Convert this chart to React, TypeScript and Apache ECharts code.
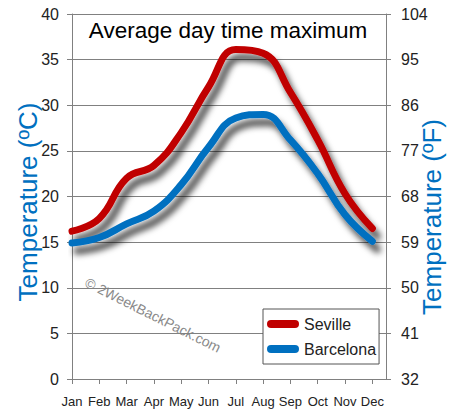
import React, { useEffect, useRef } from "react";
import * as echarts from "echarts";

const months = ["Jan", "Feb", "Mar", "Apr", "May", "Jun", "Jul", "Aug", "Sep", "Oct", "Nov", "Dec"];
const seville = [16.2, 17.6, 22.0, 23.4, 27.0, 32.0, 36.1, 35.7, 31.4, 26.2, 20.3, 16.5];
const barcelona = [14.9, 15.5, 17.0, 18.4, 21.3, 25.4, 28.6, 29.0, 26.2, 22.5, 18.0, 15.1];
const seriesNames = ["Seville", "Barcelona"];
const titleText = "Average day time maximum";
const leftName = "Temperature (ºC)";
const rightName = "Temperature (ºF)";
const watermark = "© 2WeekBackPack.com";

const FONT = "'Liberation Sans', Arial, sans-serif";
const RED = "#c00000";
const BLUE = "#0070c0";
const GRID = "#808080";
const capsule = "path://M4,0 L28,0 A4,4 0 0 1 28,8 L4,8 A4,4 0 0 1 4,0 Z";

export default function App() {
  const ref = useRef<HTMLDivElement>(null);
  useEffect(() => {
    document.body.style.margin = "0";
    const chart = echarts.init(ref.current!, null, { renderer: "svg" });
    const idx = months.map((_, i) => i);
    const lineSeries = (name: string, vals: number[], color: string) => ({
      name,
      type: "line",
      data: vals.map((v, i) => [i, v]),
      smooth: 0.45,
      showSymbol: false,
      symbol: "none",
      lineStyle: {
        width: 7,
        color,
        cap: "round",
        shadowColor: "rgba(0,0,0,0.7)",
        shadowBlur: 6,
        shadowOffsetX: 5,
        shadowOffsetY: 8,
      },
      itemStyle: { color },
      z: 3,
    });
    chart.setOption({
      animation: false,
      backgroundColor: "#ffffff",
      title: {
        text: titleText,
        left: 228,
        textAlign: "center",
        top: 19,
        padding: 0,
        textStyle: { fontFamily: FONT, fontSize: 22.5, fontWeight: "normal", color: "#000" },
      },
      grid: { left: 72, right: 64, top: 14, bottom: 41, containLabel: false },
      xAxis: {
        type: "value",
        min: 0,
        max: 11.5,
        interval: 1,
        splitLine: { show: false },
        axisLine: { show: true, lineStyle: { color: GRID, width: 1 } },
        axisTick: { show: true, length: 5, customValues: idx, lineStyle: { color: GRID } },
        axisLabel: {
          customValues: idx,
          formatter: (v: number) => months[Math.round(v)] ?? "",
          margin: 16,
          fontFamily: FONT,
          fontSize: 13,
          color: "#222",
        },
      },
      yAxis: [
        {
          type: "value",
          min: 0,
          max: 40,
          interval: 5,
          position: "left",
          axisLine: { show: true, lineStyle: { color: GRID } },
          axisTick: { show: true, length: 5, lineStyle: { color: GRID } },
          splitLine: { show: true, lineStyle: { color: GRID, width: 1 } },
          axisLabel: { margin: 13, fontFamily: FONT, fontSize: 16, color: "#222" },
        },
        {
          type: "value",
          min: 0,
          max: 40,
          interval: 5,
          position: "right",
          axisLine: { show: true, lineStyle: { color: GRID } },
          axisTick: { show: true, length: 5, lineStyle: { color: GRID } },
          splitLine: { show: false },
          axisLabel: {
            margin: 15,
            fontFamily: FONT,
            fontSize: 16,
            color: "#222",
            formatter: (v: number) => String(Math.round((v * 9) / 5 + 32)),
          },
        },
      ],
      legend: {
        orient: "vertical",
        left: 263,
        top: 309,
        data: seriesNames.map((n) => ({ name: n, icon: capsule })),
        itemWidth: 32,
        itemHeight: 8,
        itemGap: 9,
        padding: [7, 3, 7, 4],
        borderColor: "#555",
        borderWidth: 1,
        backgroundColor: "#fff",
        textStyle: { fontFamily: FONT, fontSize: 16, color: "#222" },
      },
      graphic: [
        {
          type: "text",
          x: 28,
          y: 202,
          rotation: Math.PI / 2,
          style: {
            text: leftName,
            fill: BLUE,
            font: `26px ${FONT}`,
            textAlign: "center",
            textVerticalAlign: "middle",
          },
        },
        {
          type: "text",
          x: 432,
          y: 217,
          rotation: Math.PI / 2,
          style: {
            text: rightName,
            fill: BLUE,
            font: `26px ${FONT}`,
            textAlign: "center",
            textVerticalAlign: "middle",
          },
        },
        {
          type: "text",
          x: 153,
          y: 315,
          rotation: -0.465,
          style: {
            text: watermark,
            fill: "#8a8a8a",
            font: `14px ${FONT}`,
            textAlign: "center",
            textVerticalAlign: "middle",
          },
        },
      ],
      series: [lineSeries(seriesNames[0], seville, RED), lineSeries(seriesNames[1], barcelona, BLUE)],
    });
    return () => chart.dispose();
  }, []);
  return <div ref={ref} style={{ width: 450, height: 420 }} />;
}
